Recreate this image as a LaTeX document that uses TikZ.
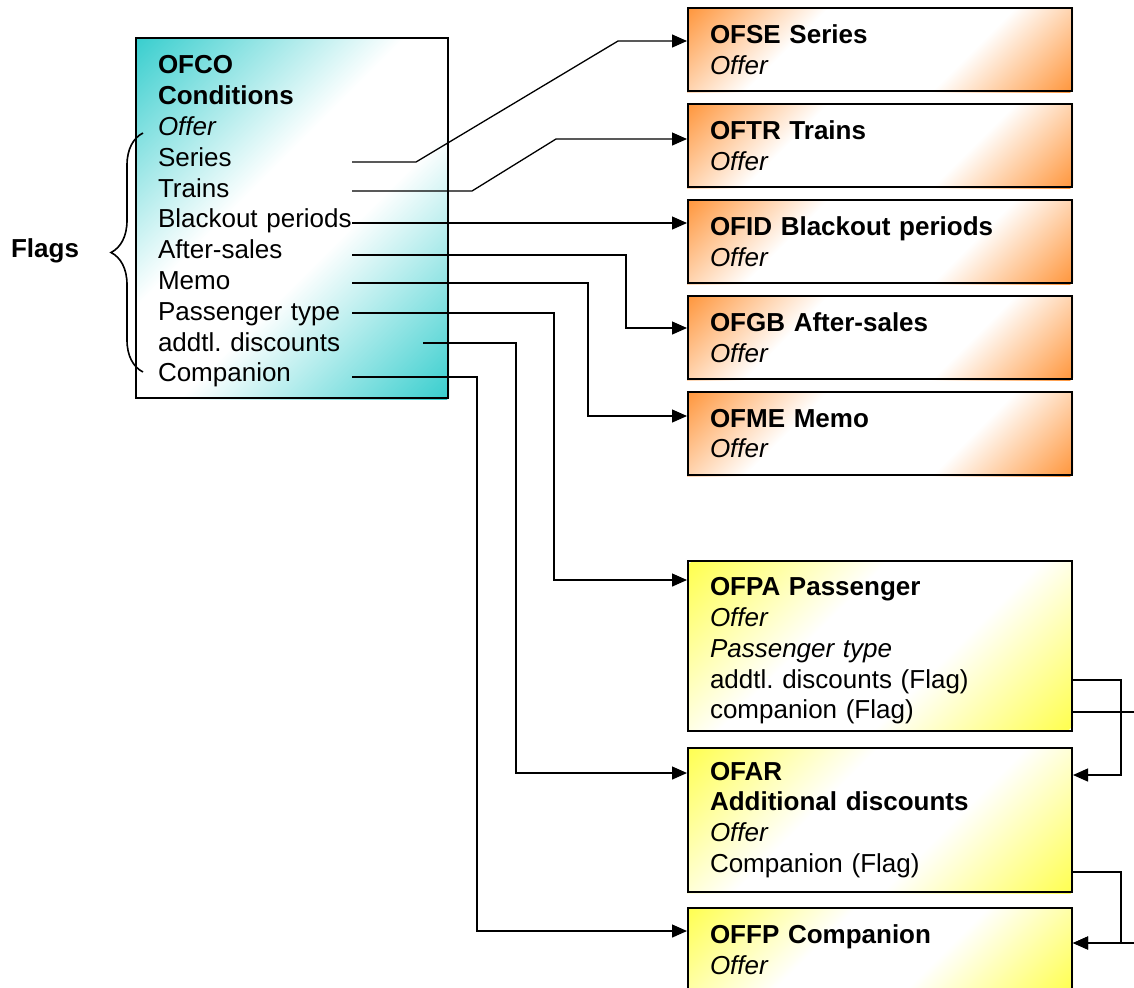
\documentclass[tikz,border=0pt]{standalone}
\usepackage{fontspec}
\setmainfont{Liberation Sans}
\usetikzlibrary{arrows.meta,decorations.pathreplacing,calc,backgrounds}

\definecolor{tealc}{RGB}{56,206,206}
\definecolor{orangec}{RGB}{255,150,60}
\definecolor{yellowc}{RGB}{255,255,80}

\pgfdeclarehorizontalshading{tealshade}{100bp}{color(0bp)=(tealc); color(25bp)=(tealc);
  color(45bp)=(white); color(55bp)=(white); color(75bp)=(tealc); color(100bp)=(tealc)}
\pgfdeclarehorizontalshading{orangeshade}{100bp}{color(0bp)=(orangec); color(25bp)=(orangec);
  color(40bp)=(white); color(60bp)=(white); color(75bp)=(orangec); color(100bp)=(orangec)}
\pgfdeclarehorizontalshading{yellowshade}{100bp}{color(0bp)=(yellowc); color(25bp)=(yellowc);
  color(43bp)=(white); color(57bp)=(white); color(75bp)=(yellowc); color(100bp)=(yellowc)}

\tikzset{
  box/.style={draw,line width=1pt,anchor=north west,align=left,inner xsep=11pt,
    font=\fontsize{13}{15.4}\selectfont},
  tealbox/.style={box,text width=134pt,minimum height=180pt},
  orangebox/.style={box,text width=170pt,minimum height=41.5pt},
  yellowbox/.style={box,text width=170pt},
  link/.style={line width=0.65pt},
  linkarrow/.style={link,-{Triangle[length=7.5pt,width=6.5pt]}}
}

\begin{document}
\frenchspacing
\begin{tikzpicture}[x=0.5pt,y=-0.5pt]
      \path[use as bounding box,clip] (0,0) rectangle (1134,987);

      \node[tealbox] (ofco) at (135,37) {\rule{0pt}{12.5pt}\textbf{OFCO}\\\textbf{Conditions}\\\textit{Offer}\\
        Series\\Trains\\Blackout periods\\After-sales\\Memo\\Passenger type\\
        addtl. discounts\\Companion};
      \draw[line width=0.8pt,decorate,decoration={brace,amplitude=16pt}] (143,372) -- (143,133);
      \node[font=\fontsize{13}{15.4}\selectfont\bfseries] (flags) at (45,251) {Flags};

      \node[orangebox] (ofse) at (687,7) {\textbf{OFSE Series}\\\textit{Offer}};
      \node[orangebox] (oftr) at (687,103) {\textbf{OFTR Trains}\\\textit{Offer}};
      \node[orangebox] (ofid) at (687,199) {\textbf{OFID Blackout periods}\\\textit{Offer}};
      \node[orangebox] (ofgb) at (687,295) {\textbf{OFGB After-sales}\\\textit{Offer}};
      \node[orangebox] (ofme) at (687,391) {\textbf{OFME Memo}\\\textit{Offer}};

      \node[yellowbox,minimum height=81.5pt] (ofpa) at (687,560) {\rule{0pt}{14pt}\textbf{OFPA Passenger}\\
        \textit{Offer}\\\textit{Passenger type}\\addtl. discounts (Flag)\\companion (Flag)};
      \node[yellowbox,minimum height=72pt] (ofar) at (687,747) {\textbf{OFAR}\\
        \textbf{Additional discounts}\\\textit{Offer}\\Companion (Flag)};
      \node[yellowbox,minimum height=41.5pt] (offp) at (687,907) {\textbf{OFFP Companion}\\\textit{Offer}};

      \begin{scope}[on background layer]
      \foreach \nd/\sh/\len in {ofco/tealshade/238,ofse/orangeshade/165,oftr/orangeshade/165,
          ofid/orangeshade/165,ofgb/orangeshade/165,ofme/orangeshade/165,
          ofpa/yellowshade/193,ofar/yellowshade/187,offp/yellowshade/165}{
        \begin{scope}
          \clip (\nd.south west) rectangle (\nd.north east);
          \begin{scope}[transform canvas={rotate around={-45:(\nd.center)}}]
            \shade[shading=\sh] ($(\nd.center)+(-\len,-400)$) rectangle ($(\nd.center)+(\len,400)$);
          \end{scope}
        \end{scope}
      }
      \end{scope}

      \foreach \name/\y in {series/162,trains/191,blackout/223,aftersales/255,memo/283,paxtype/313,companion/377}
      \coordinate (\name) at (352,\y);
      \coordinate (discounts) at (423,343);

      \draw[linkarrow] (series) -- ++(64,0) -- ++(202,-121) -- ([yshift=-17pt]ofse.north west);
      \draw[linkarrow] (trains) -- ++(120,0) -- ++(84,-52) -- ([yshift=-18pt]oftr.north west);
      \draw[linkarrow] (blackout) -- (blackout -| ofid.west);
      \draw[linkarrow] (aftersales) -- ++(274,0) |- ([yshift=-16.5pt]ofgb.north west);
      \draw[linkarrow] (memo) -- ++(236,0) |- ([yshift=-12.5pt]ofme.north west);
      \draw[linkarrow] (paxtype) -- ++(202,0) |- ([yshift=-10pt]ofpa.north west);
      \draw[linkarrow] (discounts) -- ++(93,0) |- ([yshift=-13pt]ofar.north west);
      \draw[linkarrow] (companion) -- ++(125,0) |- ([yshift=-12pt]offp.north west);

      \draw[linkarrow] ([yshift=-60pt]ofpa.north east) -- ++(48,0) |- ([yshift=-14pt]ofar.north east);
      \draw[linkarrow] ([yshift=-76pt]ofpa.north east) -- ++(80,0) |- ([yshift=-18pt]offp.north east);
      \draw[linkarrow] ([yshift=-62.5pt]ofar.north east) -- ++(48,0) |- ([yshift=-18pt]offp.north east);
    \end{tikzpicture}
\end{document}
